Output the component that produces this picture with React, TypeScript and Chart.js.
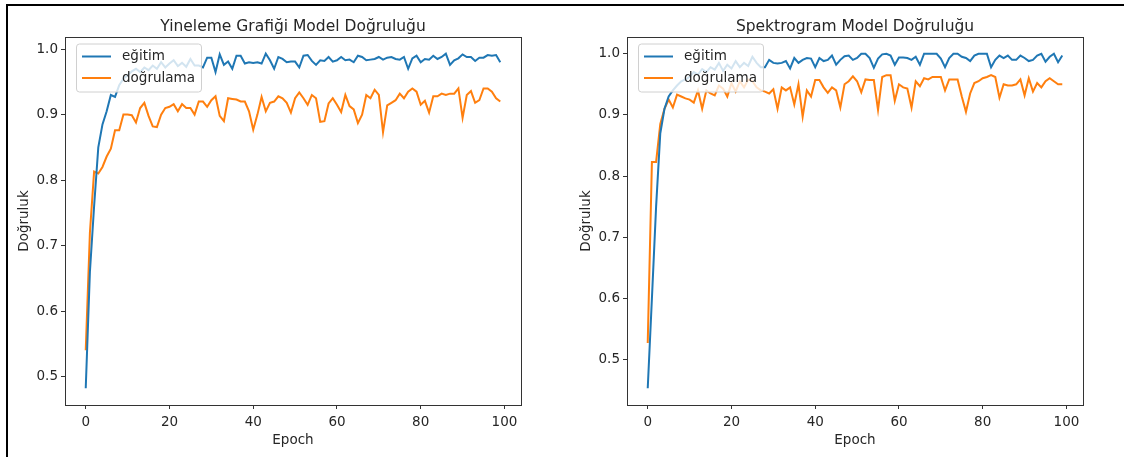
import React, { useEffect, useRef } from "react";
import { Chart, registerables } from "chart.js";

Chart.register(...registerables);

const FONT = "'DejaVu Sans', 'Liberation Sans', sans-serif";
const BLUE = "#1f77b4";
const ORANGE = "#ff7f0e";
const INK = "#262626";

const seriesLabels = ["eğitim", "doğrulama"];
const epochTicks = [0, 20, 40, 60, 80, 100];
const accuracyTicks = [0.5, 0.6, 0.7, 0.8, 0.9, 1.0];
const xAxisLabel = "Epoch";
const yAxisLabel = "Doğruluk";

const recurrenceTitle = "Yineleme Grafiği Model Doğruluğu";
const spectrogramTitle = "Spektrogram Model Doğruluğu";

// Recurrence-plot model, per-epoch accuracy
const recurrenceTrain = [
  0.482, 0.66, 0.76, 0.85, 0.885, 0.905, 0.93, 0.927, 0.945, 0.955,
  0.96, 0.966, 0.97, 0.965, 0.972, 0.968, 0.975, 0.97, 0.98, 0.972,
  0.978, 0.983, 0.974, 0.979, 0.973, 0.985, 0.975, 0.975, 0.972, 0.987,
  0.987, 0.965, 0.992, 0.976, 0.981, 0.97, 0.99, 0.99, 0.978, 0.98,
  0.979, 0.98, 0.978, 0.993, 0.983, 0.97, 0.988, 0.985, 0.98, 0.981,
  0.981, 0.972, 0.99, 0.991, 0.982, 0.976, 0.983, 0.982, 0.988, 0.981,
  0.983, 0.988, 0.983, 0.984, 0.98, 0.99, 0.988, 0.983, 0.984, 0.985,
  0.988, 0.984, 0.987, 0.988, 0.985, 0.984, 0.988, 0.97, 0.986, 0.99,
  0.98, 0.985, 0.984, 0.99, 0.985, 0.988, 0.993, 0.976, 0.983, 0.986,
  0.992, 0.988, 0.988, 0.982, 0.987, 0.987, 0.991, 0.99, 0.991, 0.98,
];
const recurrenceVal = [
  0.54, 0.72, 0.813, 0.81, 0.82, 0.836, 0.848, 0.876, 0.876, 0.9,
  0.9, 0.899, 0.888, 0.91, 0.918, 0.898, 0.882, 0.881, 0.9, 0.91,
  0.912, 0.916, 0.905, 0.916, 0.91, 0.91, 0.9, 0.92, 0.92, 0.912,
  0.922, 0.928, 0.898, 0.89, 0.925, 0.924, 0.923, 0.92, 0.92, 0.905,
  0.877, 0.9, 0.927, 0.905, 0.918, 0.92, 0.928, 0.925, 0.918, 0.903,
  0.925, 0.934, 0.925, 0.915, 0.93, 0.925, 0.889, 0.89, 0.917, 0.925,
  0.915, 0.904, 0.93, 0.913, 0.908, 0.887, 0.9, 0.93, 0.925, 0.938,
  0.93, 0.873, 0.914, 0.918, 0.922, 0.932, 0.925, 0.935, 0.94, 0.935,
  0.915, 0.921, 0.903, 0.928, 0.928, 0.932, 0.93, 0.932, 0.932, 0.94,
  0.895, 0.93, 0.936, 0.918, 0.922, 0.94, 0.94, 0.935, 0.925, 0.92,
];

// Spectrogram model, per-epoch accuracy
const spectrogramTrain = [
  0.453, 0.6, 0.75, 0.87, 0.91, 0.93, 0.94, 0.948, 0.955, 0.958,
  0.962, 0.97, 0.966, 0.975, 0.97, 0.978, 0.974, 0.985, 0.972, 0.982,
  0.976, 0.988, 0.978, 0.985, 0.98, 0.995, 0.985, 0.978, 0.978, 0.99,
  0.985, 0.984, 0.985, 0.988, 0.976, 0.993, 0.985, 0.99, 0.993, 0.992,
  0.978, 0.993, 0.988, 0.99, 0.997, 0.982, 0.99, 0.996, 0.997, 0.99,
  0.993, 1.0, 1.0, 0.993, 0.977, 0.992, 0.999, 1.0, 0.997, 0.982,
  0.994, 0.994, 0.993, 0.99, 0.995, 0.982, 1.0, 1.0, 1.0, 1.0,
  0.992, 0.978, 0.993, 1.0, 1.0, 0.995, 0.993, 0.988, 0.997, 1.0,
  1.0, 1.0, 0.978, 0.99, 0.997, 0.993, 0.997, 0.99, 0.99, 0.997,
  0.993, 0.988, 0.99, 0.997, 1.0, 0.987, 0.995, 1.0, 0.986, 0.997,
];
const spectrogramVal = [
  0.527, 0.823, 0.823, 0.885, 0.91, 0.925, 0.912, 0.933, 0.93, 0.927,
  0.925, 0.92, 0.94, 0.91, 0.94, 0.935, 0.932, 0.948, 0.943, 0.93,
  0.952, 0.938, 0.955, 0.945, 0.958, 0.955, 0.945, 0.94, 0.938, 0.935,
  0.942, 0.91, 0.945, 0.94, 0.945, 0.917, 0.95, 0.897, 0.94, 0.93,
  0.957, 0.957, 0.945, 0.936, 0.945, 0.94, 0.912, 0.95, 0.955, 0.963,
  0.955, 0.937, 0.958, 0.957, 0.957, 0.908, 0.962, 0.965, 0.965, 0.923,
  0.95, 0.945, 0.943, 0.912, 0.955, 0.947, 0.96, 0.958, 0.962, 0.962,
  0.962, 0.94, 0.958, 0.958, 0.958, 0.93, 0.905, 0.935, 0.952, 0.955,
  0.96, 0.962, 0.965, 0.962, 0.928, 0.95, 0.948, 0.948, 0.95, 0.958,
  0.932, 0.96, 0.938, 0.952, 0.945, 0.955, 0.96, 0.955, 0.95, 0.95,
];

const PANEL_W = 562;
const PANEL_H = 457;

function paddedRange(values: number[]) {
  const lo = Math.min(...values);
  const hi = Math.max(...values);
  const m = (hi - lo) * 0.05;
  return { min: lo - m, max: hi + m };
}

function decorations(title: string) {
  return {
    id: "panelDecor",
    afterDatasetsDraw(chart: any) {
      const { ctx, chartArea: a } = chart;
      ctx.save();
      // axes frame
      ctx.strokeStyle = "#333";
      ctx.lineWidth = 1;
      ctx.strokeRect(
        Math.round(a.left) + 0.5,
        Math.round(a.top) + 0.5,
        Math.round(a.right - a.left),
        Math.round(a.bottom - a.top)
      );
      // legend box
      const bx = a.left + 11.5;
      const by = a.top + 7;
      const bw = 125;
      const bh = 48;
      const r = 3;
      ctx.beginPath();
      ctx.moveTo(bx + r, by);
      ctx.lineTo(bx + bw - r, by);
      ctx.quadraticCurveTo(bx + bw, by, bx + bw, by + r);
      ctx.lineTo(bx + bw, by + bh - r);
      ctx.quadraticCurveTo(bx + bw, by + bh, bx + bw - r, by + bh);
      ctx.lineTo(bx + r, by + bh);
      ctx.quadraticCurveTo(bx, by + bh, bx, by + bh - r);
      ctx.lineTo(bx, by + r);
      ctx.quadraticCurveTo(bx, by, bx + r, by);
      ctx.closePath();
      ctx.fillStyle = "rgba(255,255,255,0.8)";
      ctx.fill();
      ctx.strokeStyle = "#d0d0d0";
      ctx.stroke();
      const colors = [BLUE, ORANGE];
      ctx.font = `13.5px ${FONT}`;
      ctx.textBaseline = "middle";
      ctx.textAlign = "left";
      seriesLabels.forEach((lab, i) => {
        const y = a.top + 19.5 + i * 21.5;
        ctx.strokeStyle = colors[i];
        ctx.lineWidth = 2;
        ctx.beginPath();
        ctx.moveTo(a.left + 17, y);
        ctx.lineTo(a.left + 46, y);
        ctx.stroke();
        ctx.fillStyle = INK;
        ctx.fillText(lab, a.left + 57, y);
      });
      ctx.restore();
    },
    afterDraw(chart: any) {
      const { ctx, chartArea: a } = chart;
      const cx = (a.left + a.right) / 2;
      ctx.save();
      ctx.fillStyle = INK;
      ctx.textAlign = "center";
      ctx.textBaseline = "middle";
      ctx.font = `15.5px ${FONT}`;
      ctx.fillText(title, cx, 27);
      ctx.font = `13.5px ${FONT}`;
      ctx.fillText(xAxisLabel, cx, 440);
      ctx.translate(24, (a.top + a.bottom) / 2);
      ctx.rotate(-Math.PI / 2);
      ctx.fillText(yAxisLabel, 0, 0);
      ctx.restore();
    },
  };
}

function AccuracyPanel(props: { title: string; train: number[]; val: number[]; left: number }) {
  const ref = useRef<HTMLCanvasElement | null>(null);

  useEffect(() => {
    if (!ref.current) return;
    const { min, max } = paddedRange([...props.train, ...props.val]);
    const n = props.train.length;
    const xm = (n - 1) * 0.05;
    const tickFont = { family: FONT, size: 13.5 };
    const chart = new Chart(ref.current, {
      type: "line",
      data: {
        datasets: [
          {
            label: seriesLabels[0],
            data: props.train.map((v, i) => ({ x: i, y: v })),
            borderColor: BLUE,
            borderWidth: 2,
            pointRadius: 0,
            tension: 0,
          },
          {
            label: seriesLabels[1],
            data: props.val.map((v, i) => ({ x: i, y: v })),
            borderColor: ORANGE,
            borderWidth: 2,
            pointRadius: 0,
            tension: 0,
          },
        ],
      },
      options: {
        animation: false,
        responsive: false,
        maintainAspectRatio: false,
        layout: { padding: { top: 37, right: 41, bottom: 0, left: 0 } },
        plugins: {
          legend: { display: false },
          title: { display: false },
          tooltip: { enabled: false },
        },
        scales: {
          x: {
            type: "linear",
            min: -xm,
            max: n - 1 + xm,
            afterBuildTicks: (s: any) => {
              s.ticks = epochTicks.map((v) => ({ value: v }));
            },
            afterFit: (s: any) => {
              s.height = 52;
            },
            grid: { drawOnChartArea: false, drawTicks: true, tickLength: 4, color: "#333" },
            border: { display: false },
            ticks: {
              font: tickFont,
              color: INK,
              padding: 5,
              maxRotation: 0,
              autoSkip: false,
              callback: (v: any) => String(v),
            },
          },
          y: {
            type: "linear",
            min,
            max,
            afterBuildTicks: (s: any) => {
              s.ticks = accuracyTicks.filter((v) => v >= min && v <= max).map((v) => ({ value: v }));
            },
            afterFit: (s: any) => {
              s.width = 65;
            },
            grid: { drawOnChartArea: false, drawTicks: true, tickLength: 4, color: "#333" },
            border: { display: false },
            ticks: {
              font: tickFont,
              color: INK,
              padding: 3,
              autoSkip: false,
              callback: (v: any) => Number(v).toFixed(1),
            },
          },
        },
      },
      plugins: [decorations(props.title)],
    } as any);
    return () => chart.destroy();
  }, [props.title, props.train, props.val]);

  return (
    <canvas
      ref={ref}
      width={PANEL_W}
      height={PANEL_H}
      style={{ position: "absolute", left: props.left, top: 0, width: PANEL_W, height: PANEL_H }}
    />
  );
}

export default function App() {
  return (
    <div
      style={{
        position: "fixed",
        left: 0,
        top: 0,
        width: 1124,
        height: 457,
        background: "#fff",
        overflow: "hidden",
      }}
    >
      <AccuracyPanel title={recurrenceTitle} train={recurrenceTrain} val={recurrenceVal} left={0} />
      <AccuracyPanel title={spectrogramTitle} train={spectrogramTrain} val={spectrogramVal} left={562} />
      <div
        style={{
          position: "absolute",
          left: 6,
          top: 4,
          width: 1130,
          height: 470,
          borderTop: "2px solid #000",
          borderLeft: "2px solid #000",
          pointerEvents: "none",
        }}
      />
    </div>
  );
}
